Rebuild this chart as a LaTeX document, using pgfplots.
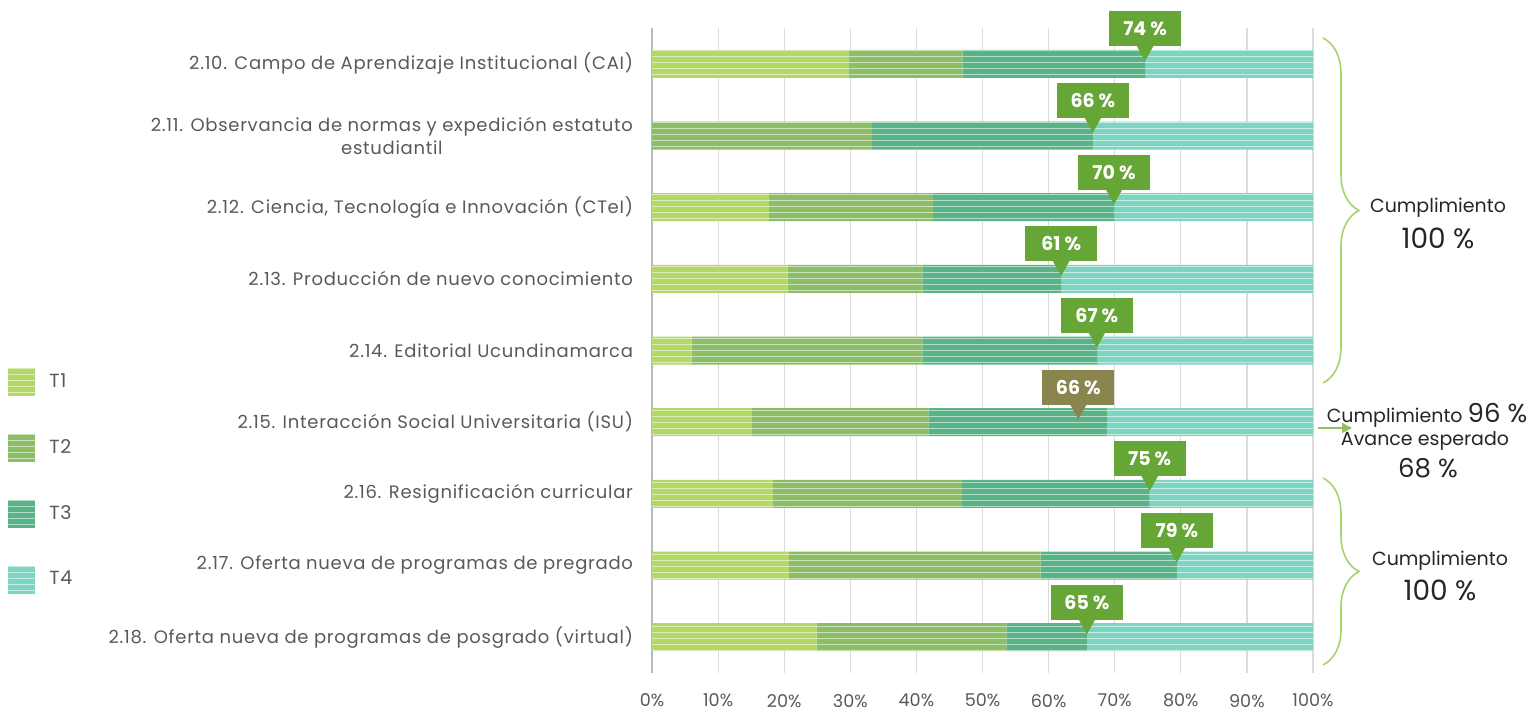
\documentclass[border=0pt]{standalone}
\usepackage{pgfplots}
\pgfplotsset{compat=1.18}
\usepackage{fontspec}
\setmainfont{Poppins}[LetterSpace=4]
\newfontfamily\plain{Poppins}
\usetikzlibrary{patterns,decorations.pathreplacing,arrows.meta}
\definecolor{cT1}{HTML}{B3D866}
\definecolor{cT2}{HTML}{8BBE66}
\definecolor{cT3}{HTML}{58B487}
\definecolor{cT4}{HTML}{7DD5C1}
\definecolor{callg}{HTML}{66A636}
\definecolor{callo}{HTML}{8A844F}
\definecolor{bracec}{HTML}{A6D46A}
\definecolor{txt}{HTML}{595959}
\definecolor{dtxt}{HTML}{262626}
\newcommand{\callout}[3]{%
  \fill[#3] ([yshift=1.5pt]#1) -- ([xshift=-4.5pt,yshift=9.5pt]#1) -- ([xshift=4.5pt,yshift=9.5pt]#1) -- cycle;
  \node[fill=#3, text=white, font=\plain\bfseries\fontsize{9.5}{11}\selectfont, minimum width=36pt, minimum height=17.5pt, inner sep=0pt, anchor=south] at ([yshift=8.5pt]#1) {#2};
}
\pgfplotsset{
  mybar/.style={fill=#1, draw=none, postaction={pattern=horizontal lines, pattern color=white!55!#1}},
}
\begin{document}
\begin{tikzpicture}
\useasboundingbox (0,0) rectangle (766pt,355.5pt);
\begin{axis}[
  at={(326pt,19pt)}, anchor=south west,
  scale only axis, width=330.5pt, height=322.5pt,
  xbar stacked, bar width=14pt,
  xmin=0, xmax=100, ymin=-0.5, ymax=8.5, y dir=reverse,
  clip=false,
  xtick={0,10,...,100},
  xticklabel={\pgfmathprintnumber{\tick}\%},
  /pgf/number format/assume math mode=true,
  xticklabel style={text=txt, font=\plain\fontsize{8.8}{10}\selectfont, yshift=-7pt},
  ytick={0,...,8},
  yticklabels={
    {2.10. Campo de Aprendizaje Institucional (CAI)},
    {2.11. Observancia de normas y expedición estatuto\\estudiantil},
    {2.12. Ciencia, Tecnología e Innovación (CTeI)},
    {2.13. Producción de nuevo conocimiento},
    {2.14. Editorial Ucundinamarca},
    {2.15. Interacción Social Universitaria (ISU)},
    {2.16. Resignificación curricular},
    {2.17. Oferta nueva de programas de pregrado},
    {2.18. Oferta nueva de programas de posgrado (virtual)}},
  yticklabel style={align=center, text=txt, font=\fontsize{9}{11.5}\selectfont, xshift=-6pt},
  major tick length=0pt,
  xmajorgrids, grid style={draw=gray!28, line width=0.6pt},
  axis lines*=left,
  x axis line style={draw=none},
  y axis line style={draw=gray!55, line width=0.8pt, -},
  legend style={at={(axis description cs:-0.9743,0.474)}, anchor=north west,
    draw=none, fill=none, inner sep=0pt, row sep=19pt,
    font=\fontsize{9.5}{10}\selectfont, text=txt,
    nodes={inner xsep=7pt, inner ysep=0pt}},
  legend cell align=left,
  every axis plot post/.append style={legend image code/.code={\path[##1] (0pt,-7pt) rectangle (13.5pt,7pt);}},
]
\addplot[mybar=cT1] coordinates {(29.7,0) (0,1) (17.7,2) (20.5,3) (6.0,4) (15.1,5) (18.3,6) (20.7,7) (24.9,8)};
\addplot[mybar=cT2] coordinates {(17.3,0) (33.3,1) (24.8,2) (20.4,3) (34.9,4) (26.7,5) (28.6,6) (38.1,7) (28.7,8)};
\addplot[mybar=cT3] coordinates {(27.6,0) (33.4,1) (27.4,2) (21.0,3) (26.5,4) (27.0,5) (28.4,6) (20.6,7) (12.2,8)};
\addplot[mybar=cT4] coordinates {(25.4,0) (33.3,1) (30.1,2) (38.1,3) (32.6,4) (31.2,5) (24.7,6) (20.6,7) (34.2,8)};
\legend{T1,T2,T3,T4}
\coordinate (k0) at (axis cs:74.6,0);
\coordinate (k1) at (axis cs:66.7,1);
\coordinate (k2) at (axis cs:69.9,2);
\coordinate (k3) at (axis cs:61.9,3);
\coordinate (k4) at (axis cs:67.3,4);
\coordinate (k5) at (axis cs:64.5,5);
\coordinate (k6) at (axis cs:75.3,6);
\coordinate (k7) at (axis cs:79.4,7);
\coordinate (k8) at (axis cs:65.8,8);
\end{axis}
\callout{k0}{74 \%}{callg}
\callout{k1}{66 \%}{callg}
\callout{k2}{70 \%}{callg}
\callout{k3}{61 \%}{callg}
\callout{k4}{67 \%}{callg}
\callout{k5}{66 \%}{callo}
\callout{k6}{75 \%}{callg}
\callout{k7}{79 \%}{callg}
\callout{k8}{65 \%}{callg}
% braces and annotations (px -> pt: x*0.5, (711-y)*0.5)
\draw[bracec, line width=0.8pt, decorate, decoration={brace, amplitude=18pt}] (661.5pt,336.5pt) -- (661.5pt,164pt);
\draw[bracec, line width=0.8pt, decorate, decoration={brace, amplitude=18pt}] (661.5pt,116.5pt) -- (661.5pt,23pt);
\node[text=dtxt, font=\plain\fontsize{9.5}{11}\selectfont] at (719pt,251.5pt) {Cumplimiento};
\node[text=dtxt, font=\plain\fontsize{14}{16}\selectfont] at (719pt,236.5pt) {100 \%};
\node[text=dtxt, font=\plain\fontsize{9.5}{11}\selectfont] at (720pt,75pt) {Cumplimiento};
\node[text=dtxt, font=\plain\fontsize{14}{16}\selectfont] at (720pt,60.5pt) {100 \%};
\draw[bracec!90!black, line width=0.8pt, -{Triangle[length=5pt,width=5pt]}] (659pt,141.5pt) -- (676pt,141.5pt);
\node[text=dtxt, inner sep=0pt] at (713.5pt,148pt) {\plain\fontsize{9.5}{11}\selectfont Cumplimiento \fontsize{13}{15}\selectfont 96 \%};
\node[text=dtxt, font=\plain\fontsize{9.5}{11}\selectfont, inner sep=0pt] at (712.5pt,135pt) {Avance esperado};
\node[text=dtxt, font=\plain\fontsize{13}{15}\selectfont, inner sep=0pt] at (714pt,121.5pt) {68 \%};
\end{tikzpicture}
\end{document}
